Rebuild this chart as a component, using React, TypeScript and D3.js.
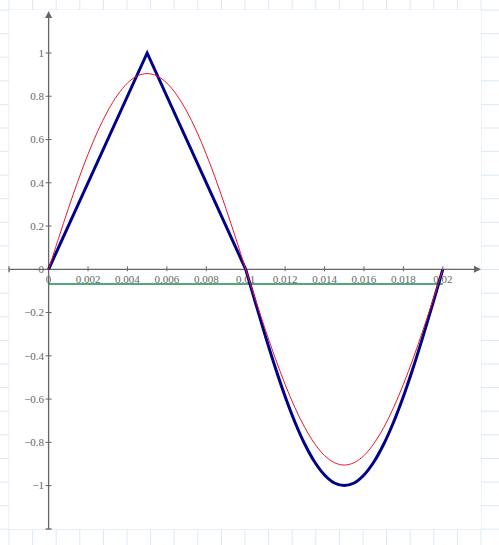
import React from 'react';
import * as d3 from 'd3';

// x positions (seconds) sampled every 0.0005
const xSamples = [
  0, 0.0005, 0.001, 0.0015, 0.002, 0.0025, 0.003, 0.0035, 0.004, 0.0045, 0.005,
  0.0055, 0.006, 0.0065, 0.007, 0.0075, 0.008, 0.0085, 0.009, 0.0095, 0.01,
  0.0105, 0.011, 0.0115, 0.012, 0.0125, 0.013, 0.0135, 0.014, 0.0145, 0.015,
  0.0155, 0.016, 0.0165, 0.017, 0.0175, 0.018, 0.0185, 0.019, 0.0195, 0.02,
];

// red approximation curve
const redValues = [
  0, 0.142, 0.28, 0.411, 0.532, 0.64, 0.732, 0.806, 0.861, 0.894, 0.905,
  0.894, 0.861, 0.806, 0.732, 0.64, 0.532, 0.411, 0.28, 0.142, 0,
  -0.142, -0.28, -0.411, -0.532, -0.64, -0.732, -0.806, -0.861, -0.894, -0.905,
  -0.894, -0.861, -0.806, -0.732, -0.64, -0.532, -0.411, -0.28, -0.142, 0,
];

// blue signal: triangle pulse then negative half wave
const blueTriX = [0, 0.005, 0.01];
const blueTriY = [0, 1, 0];
const blueWaveValues = [
  0, -0.156, -0.309, -0.454, -0.588, -0.707, -0.809, -0.891, -0.951, -0.988, -1,
  -0.988, -0.951, -0.891, -0.809, -0.707, -0.588, -0.454, -0.309, -0.156, 0,
];

// green mean level
const greenX = [0, 0.02];
const greenY = [-0.068, -0.068];

const xTicks = [0, 0.002, 0.004, 0.006, 0.008, 0.01, 0.012, 0.014, 0.016, 0.018, 0.02];
const xTickLabels = ['0', '0.002', '0.004', '0.006', '0.008', '0.01', '0.012', '0.014', '0.016', '0.018', '0.02'];
const yTicks = [1, 0.8, 0.6, 0.4, 0.2, 0, -0.2, -0.4, -0.6, -0.8, -1];
const yTickLabels = ['1', '0.8', '0.6', '0.4', '0.2', '0', '\u22120.2', '\u22120.4', '\u22120.6', '\u22120.8', '\u22121'];

const W = 499;
const H = 545;
const panel = { x0: 9, y0: 10, x1: 481, y1: 529 };

export default function App() {
  const x = d3.scaleLinear().domain([0, 0.02]).range([48.6, 442.8]);
  const y = d3.scaleLinear().domain([-1, 1]).range([485.6, 53]);
  const x0 = x(0);
  const y0 = y(0);

  const line = d3
    .line<[number, number]>()
    .x((d) => x(d[0]))
    .y((d) => y(d[1]));
  const smooth = d3
    .line<[number, number]>()
    .x((d) => x(d[0]))
    .y((d) => y(d[1]))
    .curve(d3.curveCatmullRom);

  const redPts = xSamples.map((v, i) => [v, redValues[i]] as [number, number]);
  const triPts = blueTriX.map((v, i) => [v, blueTriY[i]] as [number, number]);
  const wavePts = xSamples
    .slice(20)
    .map((v, i) => [v, blueWaveValues[i]] as [number, number]);
  const greenPts = greenX.map((v, i) => [v, greenY[i]] as [number, number]);

  // graph paper lines
  const step = 23.6;
  const vLines = d3.range(-1, 22).map((k) => panel.x0 + k * step);
  const hLines = d3.range(-1, 24).map((k) => panel.y0 + k * step);

  const axisColor = '#666';
  const font = { fontFamily: '"Liberation Serif", serif', fontSize: 11, fill: '#666' };

  return (
    <svg
      width={W}
      height={H}
      style={{ position: 'absolute', left: 0, top: 0, display: 'block', background: '#fff' }}
    >
      {vLines.map((v, i) => (
        <line key={'v' + i} x1={v} x2={v} y1={0} y2={H} stroke="#dbe9f6" strokeWidth={1} />
      ))}
      {hLines.map((v, i) => (
        <line key={'h' + i} x1={0} x2={W} y1={v} y2={v} stroke="#dbe9f6" strokeWidth={1} />
      ))}
      <rect
        x={panel.x0}
        y={panel.y0}
        width={panel.x1 - panel.x0}
        height={panel.y1 - panel.y0}
        fill="#fff"
      />

      {/* x axis */}
      <line x1={panel.x0} x2={panel.x1 - 5} y1={y0} y2={y0} stroke={axisColor} strokeWidth={1.3} />
      <line x1={panel.x0} x2={panel.x0} y1={y0 - 3} y2={y0 + 3} stroke={axisColor} strokeWidth={1.3} />
      <polygon
        points={`${panel.x1},${y0} ${panel.x1 - 7},${y0 - 3.5} ${panel.x1 - 7},${y0 + 3.5}`}
        fill={axisColor}
      />
      {xTicks.map((t, i) => (
        <g key={'xt' + i}>
          {t !== 0 && (
            <line x1={x(t)} x2={x(t)} y1={y0 - 3} y2={y0 + 2} stroke={axisColor} strokeWidth={1} />
          )}
          <text x={x(t)} y={y0 + 14} textAnchor="middle" {...font}>
            {xTickLabels[i]}
          </text>
        </g>
      ))}

      {/* y axis */}
      <line x1={x0} x2={x0} y1={panel.y0 + 5} y2={panel.y1} stroke={axisColor} strokeWidth={1.3} />
      <line x1={x0 - 3} x2={x0 + 3} y1={panel.y1} y2={panel.y1} stroke={axisColor} strokeWidth={1.3} />
      <polygon
        points={`${x0},${panel.y0 + 1} ${x0 - 3.5},${panel.y0 + 8} ${x0 + 3.5},${panel.y0 + 8}`}
        fill={axisColor}
      />
      {yTicks.map((t, i) => (
        <g key={'yt' + i}>
          {t !== 0 && (
            <line x1={x0 - 3} x2={x0 + 3} y1={y(t)} y2={y(t)} stroke={axisColor} strokeWidth={1} />
          )}
          <text x={x0 - 4.5} y={y(t)} dy="0.35em" textAnchor="end" {...font}>
            {yTickLabels[i]}
          </text>
        </g>
      ))}

      {/* series */}
      <path d={line(greenPts) || ''} fill="none" stroke="#1a8a50" strokeWidth={1.6} />
      <path d={line(triPts) || ''} fill="none" stroke="#00008b" strokeWidth={3} strokeLinejoin="miter" />
      <path d={smooth(wavePts) || ''} fill="none" stroke="#00008b" strokeWidth={3} />
      <path d={smooth(redPts) || ''} fill="none" stroke="#e8192c" strokeWidth={1} />
    </svg>
  );
}
